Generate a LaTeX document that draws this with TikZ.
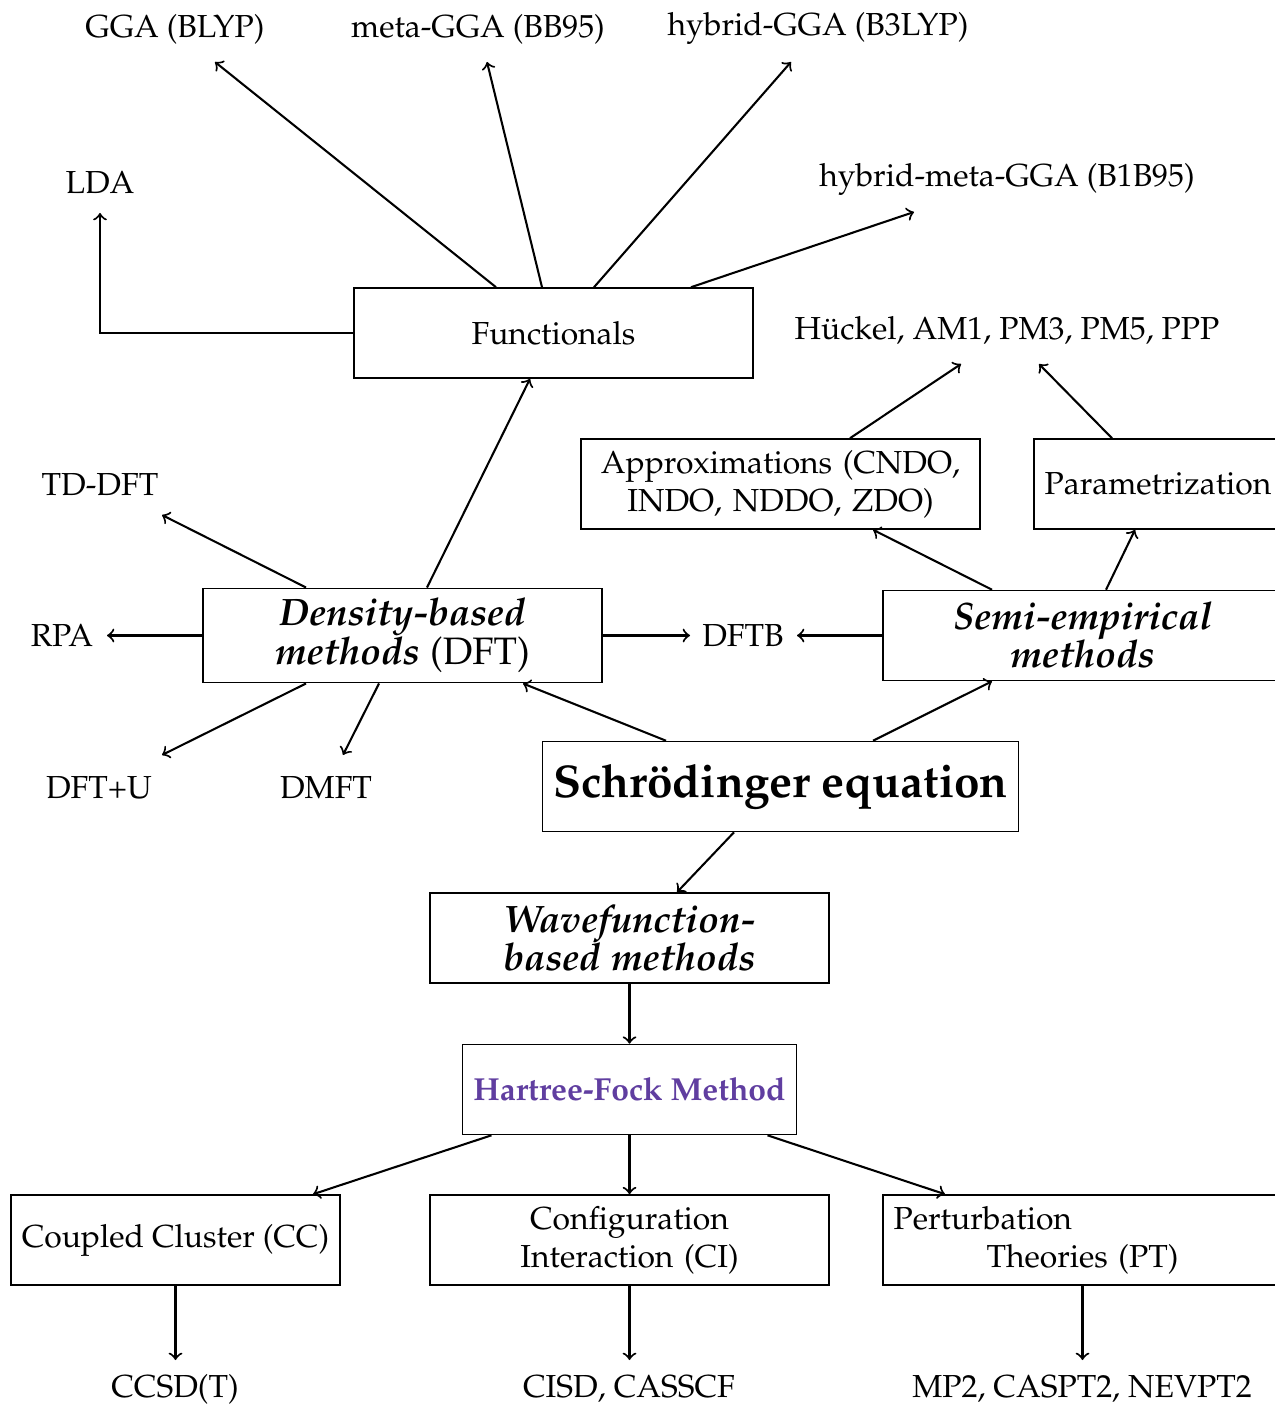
\documentclass[tikz,border=0pt]{standalone}
\usepackage[T1]{fontenc}
\usepackage{mathpazo}
\usetikzlibrary{calc}
\definecolor{hfpurple}{RGB}{96,62,160}
\begin{document}
\begin{tikzpicture}[x=0.314pt,y=-0.314pt,
  box/.style={draw,line width=0.45pt,minimum height=28.3pt,inner sep=3.333pt},
  wbox/.style={box,text width=118.6pt,align=center},
  lbl/.style={inner sep=0pt},
  conn/.style={->,line width=0.65pt}]
\useasboundingbox (0,0) rectangle (1274,1404);
% boxes
\node[wbox] (func) at (553.5,333) {Functionals};
\node[wbox] (approx) at (780.5,484) {Approximations (CNDO, INDO, NDDO, ZDO)};
\node[box] (param) at (1158,484) {Parametrization};
\node[wbox] (dens) at (402.5,635.5) {{\large\bfseries\itshape Density-based methods} {\large(DFT)}};
\node[wbox] (semi) at (1082.5,635.5) {{\large\bfseries\itshape Semi-empirical methods}};
\node[box] (schr) at (780.5,786.5) {\Large\bfseries Schr\"odinger equation};
\node[wbox] (wf) at (629.5,938) {{\large\bfseries\itshape Wavefunction-based methods}};
\node[box,text=hfpurple,font=\bfseries] (hf) at (629.5,1089.5) {Hartree-Fock Method};
\node[box] (cc) at (175.5,1240) {Coupled Cluster (CC)};
\node[wbox] (ci) at (629.5,1240) {Configuration Interaction (CI)};
\node[box,text width=118.6pt,align=left] (pt) at (1082.5,1240) {Perturbation\\\makebox[\linewidth][c]{Theories (PT)}};
% labels
\node[lbl] (gga) at (175,29) {GGA (BLYP)};
\node[lbl] (mgga) at (478,29) {meta-GGA (BB95)};
\node[lbl] (hgga) at (818,28) {hybrid-GGA (B3LYP)};
\node[lbl] (lda) at (100,183) {LDA};
\node[lbl] (hmgga) at (1007,179) {hybrid-meta-GGA (B1B95)};
\node[lbl] (huck) at (1007,331) {H\"uckel, AM1, PM3, PM5, PPP};
\node[lbl] (tddft) at (100,485) {TD-DFT};
\node[lbl] (rpa) at (62,636) {RPA};
\node[lbl] (dftb) at (743,636) {DFTB};
\node[lbl] (dftu) at (99,788) {DFT+U};
\node[lbl] (dmft) at (326,788) {DMFT};
\node[lbl] (ccsd) at (175,1389) {CCSD(T)};
\node[lbl] (cisd) at (629,1389) {CISD, CASSCF};
\node[lbl] (mp2) at (1082,1389) {MP2, CASPT2, NEVPT2};
% free ends
\coordinate (tLDA) at (100,213);
\coordinate (tGGA) at (215,62);
\coordinate (tMGGA) at (487,62);
\coordinate (tHGGA) at (791,62);
\coordinate (tHMGGA) at (914,212);
\coordinate (tTD) at (162,515);
\coordinate (tRPA) at (107,635.5);
\coordinate (tDFTBl) at (690,635.5);
\coordinate (tDFTBr) at (797,635.5);
\coordinate (tDFTU) at (162,755);
\coordinate (tDMFT) at (343,755);
\coordinate (tH1) at (961,364);
\coordinate (tH2) at (1039,364);
\coordinate (tCCSD) at (175.5,1360);
\coordinate (tCISD) at (629.5,1360);
\coordinate (tMP2) at (1082.5,1360);
% connectors
\draw[conn] (func.west) -| (tLDA);
\draw[conn] ($(func.north)+(-57.5,0)$) -- (tGGA);
\draw[conn] ($(func.north)+(-11.5,0)$) -- (tMGGA);
\draw[conn] ($(func.north)+(40.5,0)$) -- (tHGGA);
\draw[conn] ($(func.north)+(137.5,0)$) -- (tHMGGA);
\draw[conn] ($(dens.north)+(24.5,0)$) -- ($(func.south)+(-23.5,0)$);
\draw[conn] ($(dens.north)+(-96.5,0)$) -- (tTD);
\draw[conn] (dens.west) -- (tRPA);
\draw[conn] (dens.east) -- (tDFTBl);
\draw[conn] ($(dens.south)+(-96.5,0)$) -- (tDFTU);
\draw[conn] ($(dens.south)+(-23.5,0)$) -- (tDMFT);
\draw[conn] (semi.west) -- (tDFTBr);
\draw[conn] ($(semi.north)+(-90.5,0)$) -- ($(approx.south)+(92.5,0)$);
\draw[conn] ($(semi.north)+(23.5,0)$) -- ($(param.south)+(-23,0)$);
\draw[conn] ($(approx.north)+(69.5,0)$) -- (tH1);
\draw[conn] ($(param.north)+(-46,0)$) -- (tH2);
\draw[conn] ($(schr.north)+(-114.5,0)$) -- ($(dens.south)+(120.5,0)$);
\draw[conn] ($(schr.north)+(92.5,0)$) -- ($(semi.south)+(-90.5,0)$);
\draw[conn] ($(schr.south)+(-46.5,0)$) -- ($(wf.north)+(47.5,0)$);
\draw[conn] (wf.south) -- (hf.north);
\draw[conn] ($(hf.south)+(-138,0)$) -- ($(cc.north)+(137.5,0)$);
\draw[conn] (hf.south) -- (ci.north);
\draw[conn] ($(hf.south)+(138,0)$) -- ($(pt.north)+(-137.5,0)$);
\draw[conn] (cc.south) -- (tCCSD);
\draw[conn] (ci.south) -- (tCISD);
\draw[conn] (pt.south) -- (tMP2);
\end{tikzpicture}
\end{document}
